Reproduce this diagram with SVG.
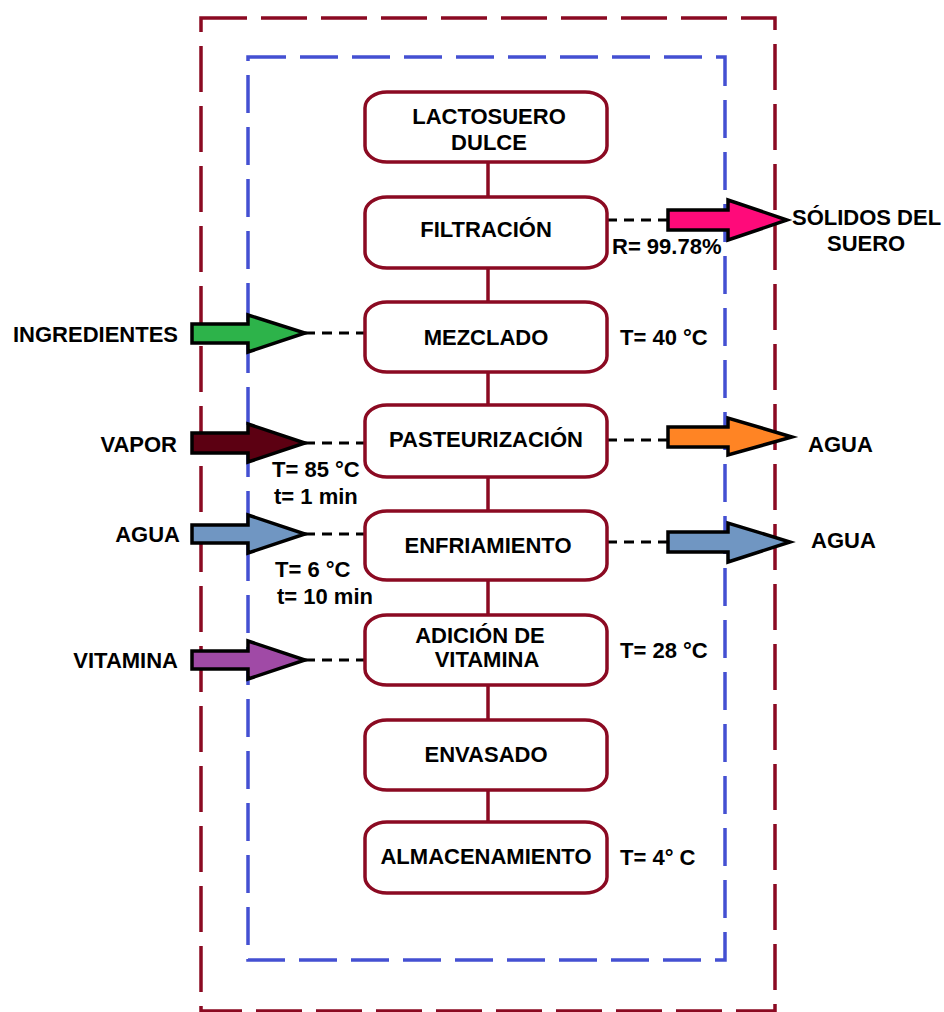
<svg xmlns="http://www.w3.org/2000/svg" width="944" height="1012" viewBox="0 0 944 1012">
<style>
.box{fill:#fff;stroke:#8B0A22;stroke-width:3.5}
.t{font-family:"Liberation Sans",Arial,sans-serif;font-weight:bold;font-size:22px;fill:#000}
.c{text-anchor:middle}
.e{text-anchor:end}
.link{stroke:#8B0A22;stroke-width:3.5;fill:none}
.dash{stroke:#000;stroke-width:3;stroke-dasharray:10 7;fill:none}
.arr{stroke:#000;stroke-width:3.5;stroke-linejoin:miter}
</style>
<rect x="201" y="18" width="574" height="993" fill="none" stroke="#8B0A22" stroke-width="3.5" stroke-dasharray="46 14"/>
<rect x="248" y="57" width="477" height="903" fill="none" stroke="#4450D2" stroke-width="3.5" stroke-dasharray="38 14"/>
<g id="connectors">
<line class="link" x1="488" y1="162" x2="488" y2="197"/>
<line class="link" x1="488" y1="268" x2="488" y2="302"/>
<line class="link" x1="488" y1="372" x2="488" y2="405"/>
<line class="link" x1="488" y1="477" x2="488" y2="511"/>
<line class="link" x1="488" y1="580" x2="488" y2="615"/>
<line class="link" x1="488" y1="685" x2="488" y2="720"/>
<line class="link" x1="488" y1="790" x2="488" y2="822"/>
<line class="dash" x1="607" y1="220" x2="668" y2="220"/>
<line class="dash" x1="305" y1="333" x2="365" y2="333"/>
<line class="dash" x1="305" y1="443" x2="365" y2="443"/>
<line class="dash" x1="607" y1="440" x2="668" y2="440"/>
<line class="dash" x1="305" y1="534" x2="365" y2="534"/>
<line class="dash" x1="607" y1="542" x2="668" y2="542"/>
<line class="dash" x1="305" y1="660" x2="365" y2="660"/>
</g>
<g id="arrows">
<polygon class="arr" fill="#FF0A7A" points="668,210 728,210 728,200 787,220 728,240 728,230 668,230"/>
<polygon class="arr" fill="#2DB34A" points="192,324 248,324 248,315 305,333 248,352 248,343 192,343"/>
<polygon class="arr" fill="#5C0012" points="192,433 248,433 248,424 305,443 248,462 248,453 192,453"/>
<polygon class="arr" fill="#7096C2" points="192,525 248,525 248,515 305,534 248,553 248,543 192,543"/>
<polygon class="arr" fill="#A04AA6" points="192,651 248,651 248,641 305,660 248,679 248,669 192,669"/>
<polygon class="arr" fill="#FF8424" points="668,427 728,427 728,418 792,437 728,455 728,447 668,447"/>
<polygon class="arr" fill="#7096C2" points="668,532 728,532 728,523 790,542 728,562 728,552 668,552"/>
</g>
<g id="n1"><rect class="box" x="365" y="92" width="242" height="70" rx="22" ry="16"/><text class="t c" x="489" y="124">LACTOSUERO</text><text class="t c" x="489" y="150">DULCE</text></g>
<g id="n2"><rect class="box" x="365" y="197" width="242" height="71" rx="22" ry="16"/><text class="t c" x="486" y="237">FILTRACIÓN</text></g>
<g id="n3"><rect class="box" x="365" y="302" width="242" height="70" rx="22" ry="16"/><text class="t c" x="486" y="345">MEZCLADO</text></g>
<g id="n4"><rect class="box" x="365" y="405" width="242" height="72" rx="22" ry="16"/><text class="t c" x="486" y="447">PASTEURIZACIÓN</text></g>
<g id="n5"><rect class="box" x="365" y="511" width="242" height="69" rx="22" ry="16"/><text class="t c" x="488" y="553">ENFRIAMIENTO</text></g>
<g id="n6"><rect class="box" x="365" y="615" width="242" height="70" rx="22" ry="16"/><text class="t c" x="480" y="643">ADICIÓN DE</text><text class="t c" x="487" y="667">VITAMINA</text></g>
<g id="n7"><rect class="box" x="365" y="720" width="242" height="70" rx="22" ry="16"/><text class="t c" x="486" y="762">ENVASADO</text></g>
<g id="n8"><rect class="box" x="365" y="822" width="242" height="71" rx="22" ry="16"/><text class="t c" x="486" y="864">ALMACENAMIENTO</text></g>
<g id="labels">
<text class="t" x="792" y="225">SÓLIDOS DEL</text>
<text class="t" x="827" y="251">SUERO</text>
<text class="t" x="612" y="254">R= 99.78%</text>
<text class="t" x="620" y="345">T= 40 °C</text>
<text class="t e" x="178" y="342">INGREDIENTES</text>
<text class="t e" x="177" y="452">VAPOR</text>
<text class="t" x="272" y="477">T= 85 °C</text>
<text class="t" x="274" y="504">t= 1 min</text>
<text class="t" x="808" y="452">AGUA</text>
<text class="t e" x="180" y="542">AGUA</text>
<text class="t" x="275" y="577">T= 6 °C</text>
<text class="t" x="277" y="604">t= 10 min</text>
<text class="t" x="811" y="548">AGUA</text>
<text class="t e" x="178" y="668">VITAMINA</text>
<text class="t" x="620" y="658">T= 28 °C</text>
<text class="t" x="620" y="865">T= 4° C</text>
</g>
</svg>
